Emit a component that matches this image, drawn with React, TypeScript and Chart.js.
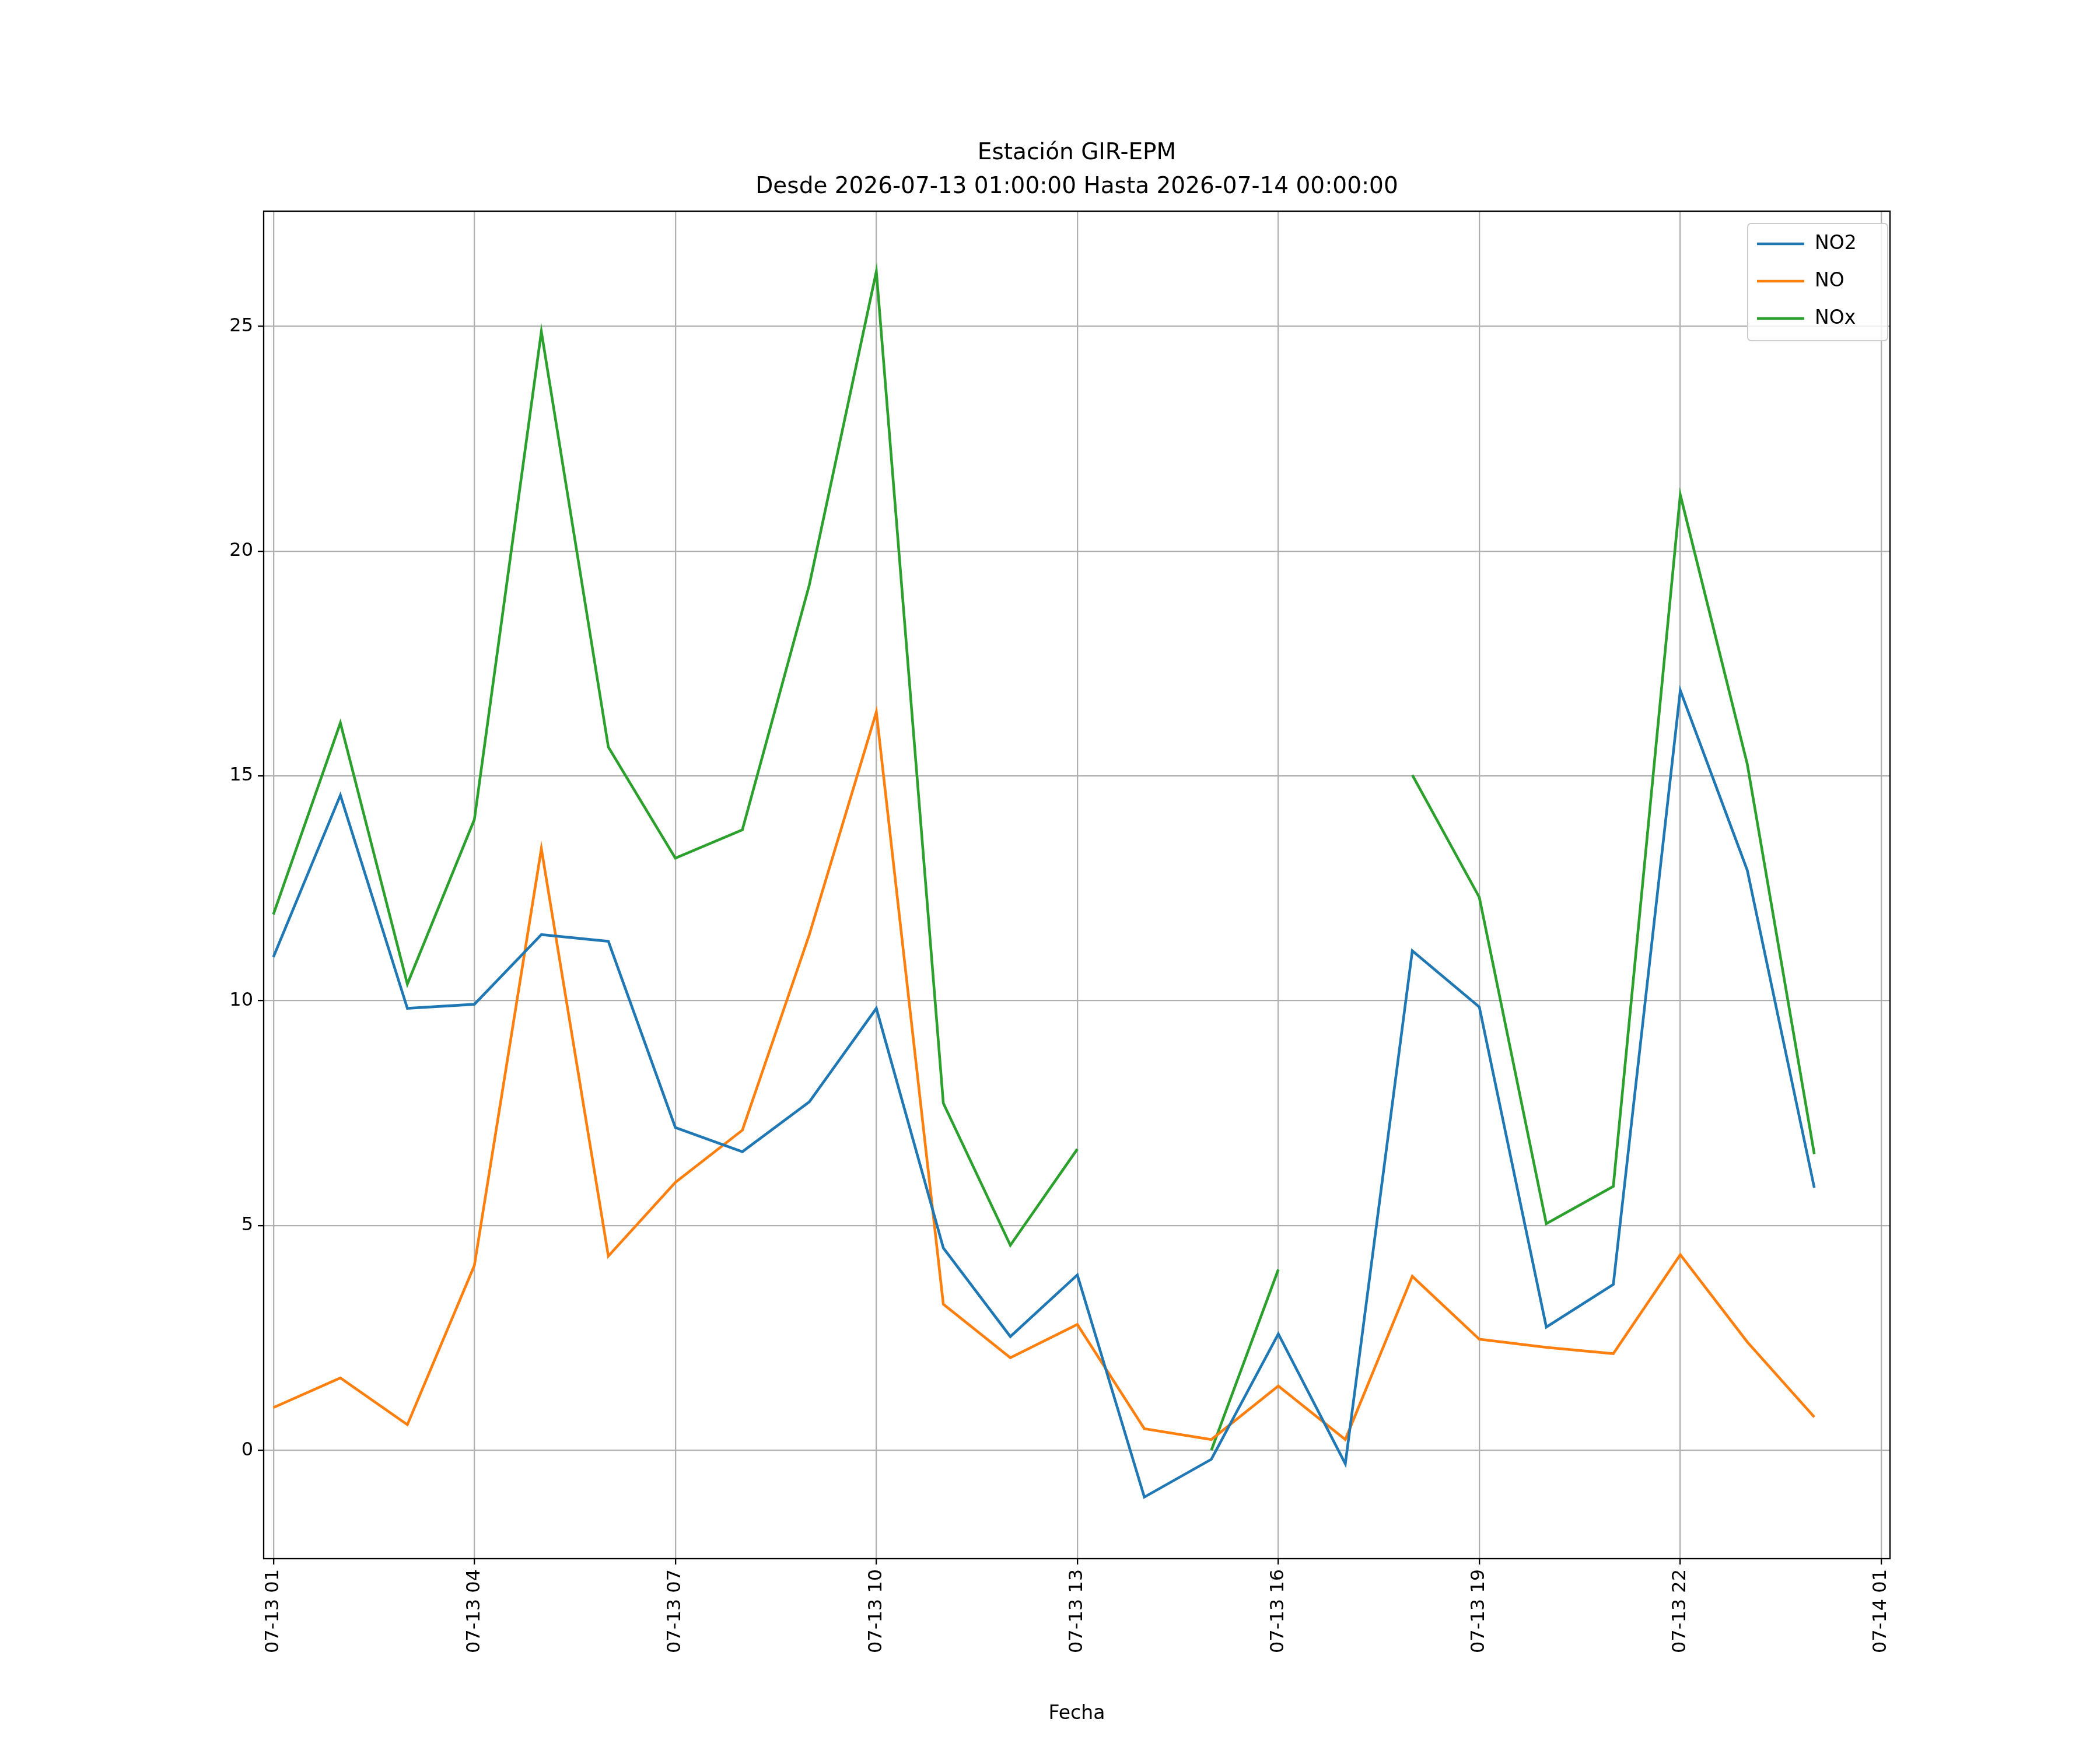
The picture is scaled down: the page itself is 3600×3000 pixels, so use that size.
import React, { useEffect, useRef } from "react";
import { Chart, registerables } from "chart.js";

Chart.register(...registerables);

// hora del día (01 .. 24 = 00:00 del día siguiente)
const HOURS = [1, 2, 3, 4, 5, 6, 7, 8, 9, 10, 11, 12, 13, 14, 15, 16, 17, 18, 19, 20, 21, 22, 23, 24];
const NO2 = [10.97, 14.57, 9.83, 9.92, 11.47, 11.32, 7.18, 6.64, 7.75, 9.83, 4.5, 2.53, 3.9, -1.04, -0.2, 2.59, -0.3, 11.11, 9.86, 2.74, 3.69, 16.9, 12.9, 5.84];
const NO = [0.95, 1.61, 0.57, 4.11, 13.38, 4.32, 5.96, 7.12, 11.47, 16.42, 3.25, 2.06, 2.8, 0.48, 0.24, 1.43, 0.24, 3.87, 2.47, 2.29, 2.15, 4.35, 2.41, 0.74];
const NOX = [11.92, 16.18, 10.37, 14.03, 24.88, 15.64, 13.17, 13.8, 19.25, 26.22, 7.72, 4.56, 6.7, null, 0, 4.02, null, 15.02, 12.3, 5.04, 5.87, 21.25, 15.26, 6.59];
const X_TICKS = [1, 4, 7, 10, 13, 16, 19, 22, 25];
const X_LABELS = ["07-13 01", "07-13 04", "07-13 07", "07-13 10", "07-13 13", "07-13 16", "07-13 19", "07-13 22", "07-14 01"];
const Y_TICKS = [0, 5, 10, 15, 20, 25];
const SERIES = [
  { label: "NO2", data: NO2, color: "#1f77b4" },
  { label: "NO", data: NO, color: "#ff7f0e" },
  { label: "NOx", data: NOX, color: "#2ca02c" },
];

const FONT = "DejaVu Sans";

const decor = {
  id: "decor",
  afterDraw(chart: any) {
    const { ctx, chartArea: a } = chart;
    ctx.save();
    ctx.strokeStyle = "#000";
    ctx.lineWidth = 2.3;
    ctx.strokeRect(a.left, a.top, a.right - a.left, a.bottom - a.top);
    ctx.fillStyle = "#000";
    ctx.textAlign = "center";
    ctx.textBaseline = "middle";
    ctx.font = `39px '${FONT}'`;
    const cx = (a.left + a.right) / 2;
    ctx.fillText("Estación GIR-EPM", cx, 263);
    ctx.fillText("Desde 2026-07-13 01:00:00 Hasta 2026-07-14 00:00:00", cx, 321);
    ctx.font = `33px '${FONT}'`;
    ctx.fillText("Fecha", cx, 2938);
    // leyenda
    const lx = 2996, ly = 383, lw = 240, lh = 201;
    ctx.fillStyle = "rgba(255,255,255,0.8)";
    ctx.strokeStyle = "#cccccc";
    ctx.lineWidth = 2;
    ctx.beginPath();
    ctx.roundRect(lx, ly, lw, lh, 6);
    ctx.fill();
    ctx.stroke();
    ctx.textAlign = "left";
    SERIES.forEach((s, i) => {
      const y = 418 + i * 64;
      ctx.strokeStyle = s.color;
      ctx.lineWidth = 4.6;
      ctx.beginPath();
      ctx.moveTo(3012, y);
      ctx.lineTo(3093, y);
      ctx.stroke();
      ctx.fillStyle = "#000";
      ctx.fillText(s.label, 3111, y);
    });
    ctx.restore();
  },
};

export default function App() {
  const ref = useRef<HTMLCanvasElement | null>(null);

  useEffect(() => {
    document.body.style.margin = "0";
    if (!ref.current) return;
    const chart = new Chart(ref.current, {
      type: "line",
      data: {
        datasets: SERIES.map((s) => ({
          label: s.label,
          data: HOURS.map((h, i) => ({ x: h, y: s.data[i] })),
          borderColor: s.color,
          backgroundColor: s.color,
          borderWidth: 4.6,
          pointRadius: 0,
          tension: 0,
          spanGaps: false,
        })),
      } as any,
      options: {
        animation: false,
        responsive: false,
        devicePixelRatio: 1,
        layout: { padding: { left: 0, top: 362, right: 360, bottom: 0 } },
        plugins: { legend: { display: false }, title: { display: false }, tooltip: { enabled: false } },
        scales: {
          x: {
            type: "linear",
            bounds: "data",
            min: 0.855,
            max: 25.13,
            afterBuildTicks: (s: any) => { s.ticks = X_TICKS.map((v) => ({ value: v })); },
            afterFit: (s: any) => { s.height = 328; },
            ticks: {
              minRotation: 90,
              maxRotation: 90,
              autoSkip: false,
              color: "#000",
              font: { family: FONT, size: 32 },
              padding: 8,
              callback: (v: any) => X_LABELS[X_TICKS.indexOf(Number(v))] ?? "",
            },
            grid: { color: "#b0b0b0", lineWidth: 2.3, tickColor: "#000", tickLength: 10 },
            border: { display: false },
          },
          y: {
            type: "linear",
            bounds: "data",
            min: -2.41,
            max: 27.56,
            afterBuildTicks: (s: any) => { s.ticks = Y_TICKS.map((v) => ({ value: v })); },
            afterFit: (s: any) => { s.width = 452; },
            ticks: { color: "#000", font: { family: FONT, size: 32 }, padding: 8 },
            grid: { color: "#b0b0b0", lineWidth: 2.3, tickColor: "#000", tickLength: 10 },
            border: { display: false },
          },
        },
      } as any,
      plugins: [decor],
    });
    return () => chart.destroy();
  }, []);

  return (
    <div style={{ width: 3600, height: 3000, background: "#fff" }}>
      <canvas ref={ref} width={3600} height={3000} />
    </div>
  );
}
